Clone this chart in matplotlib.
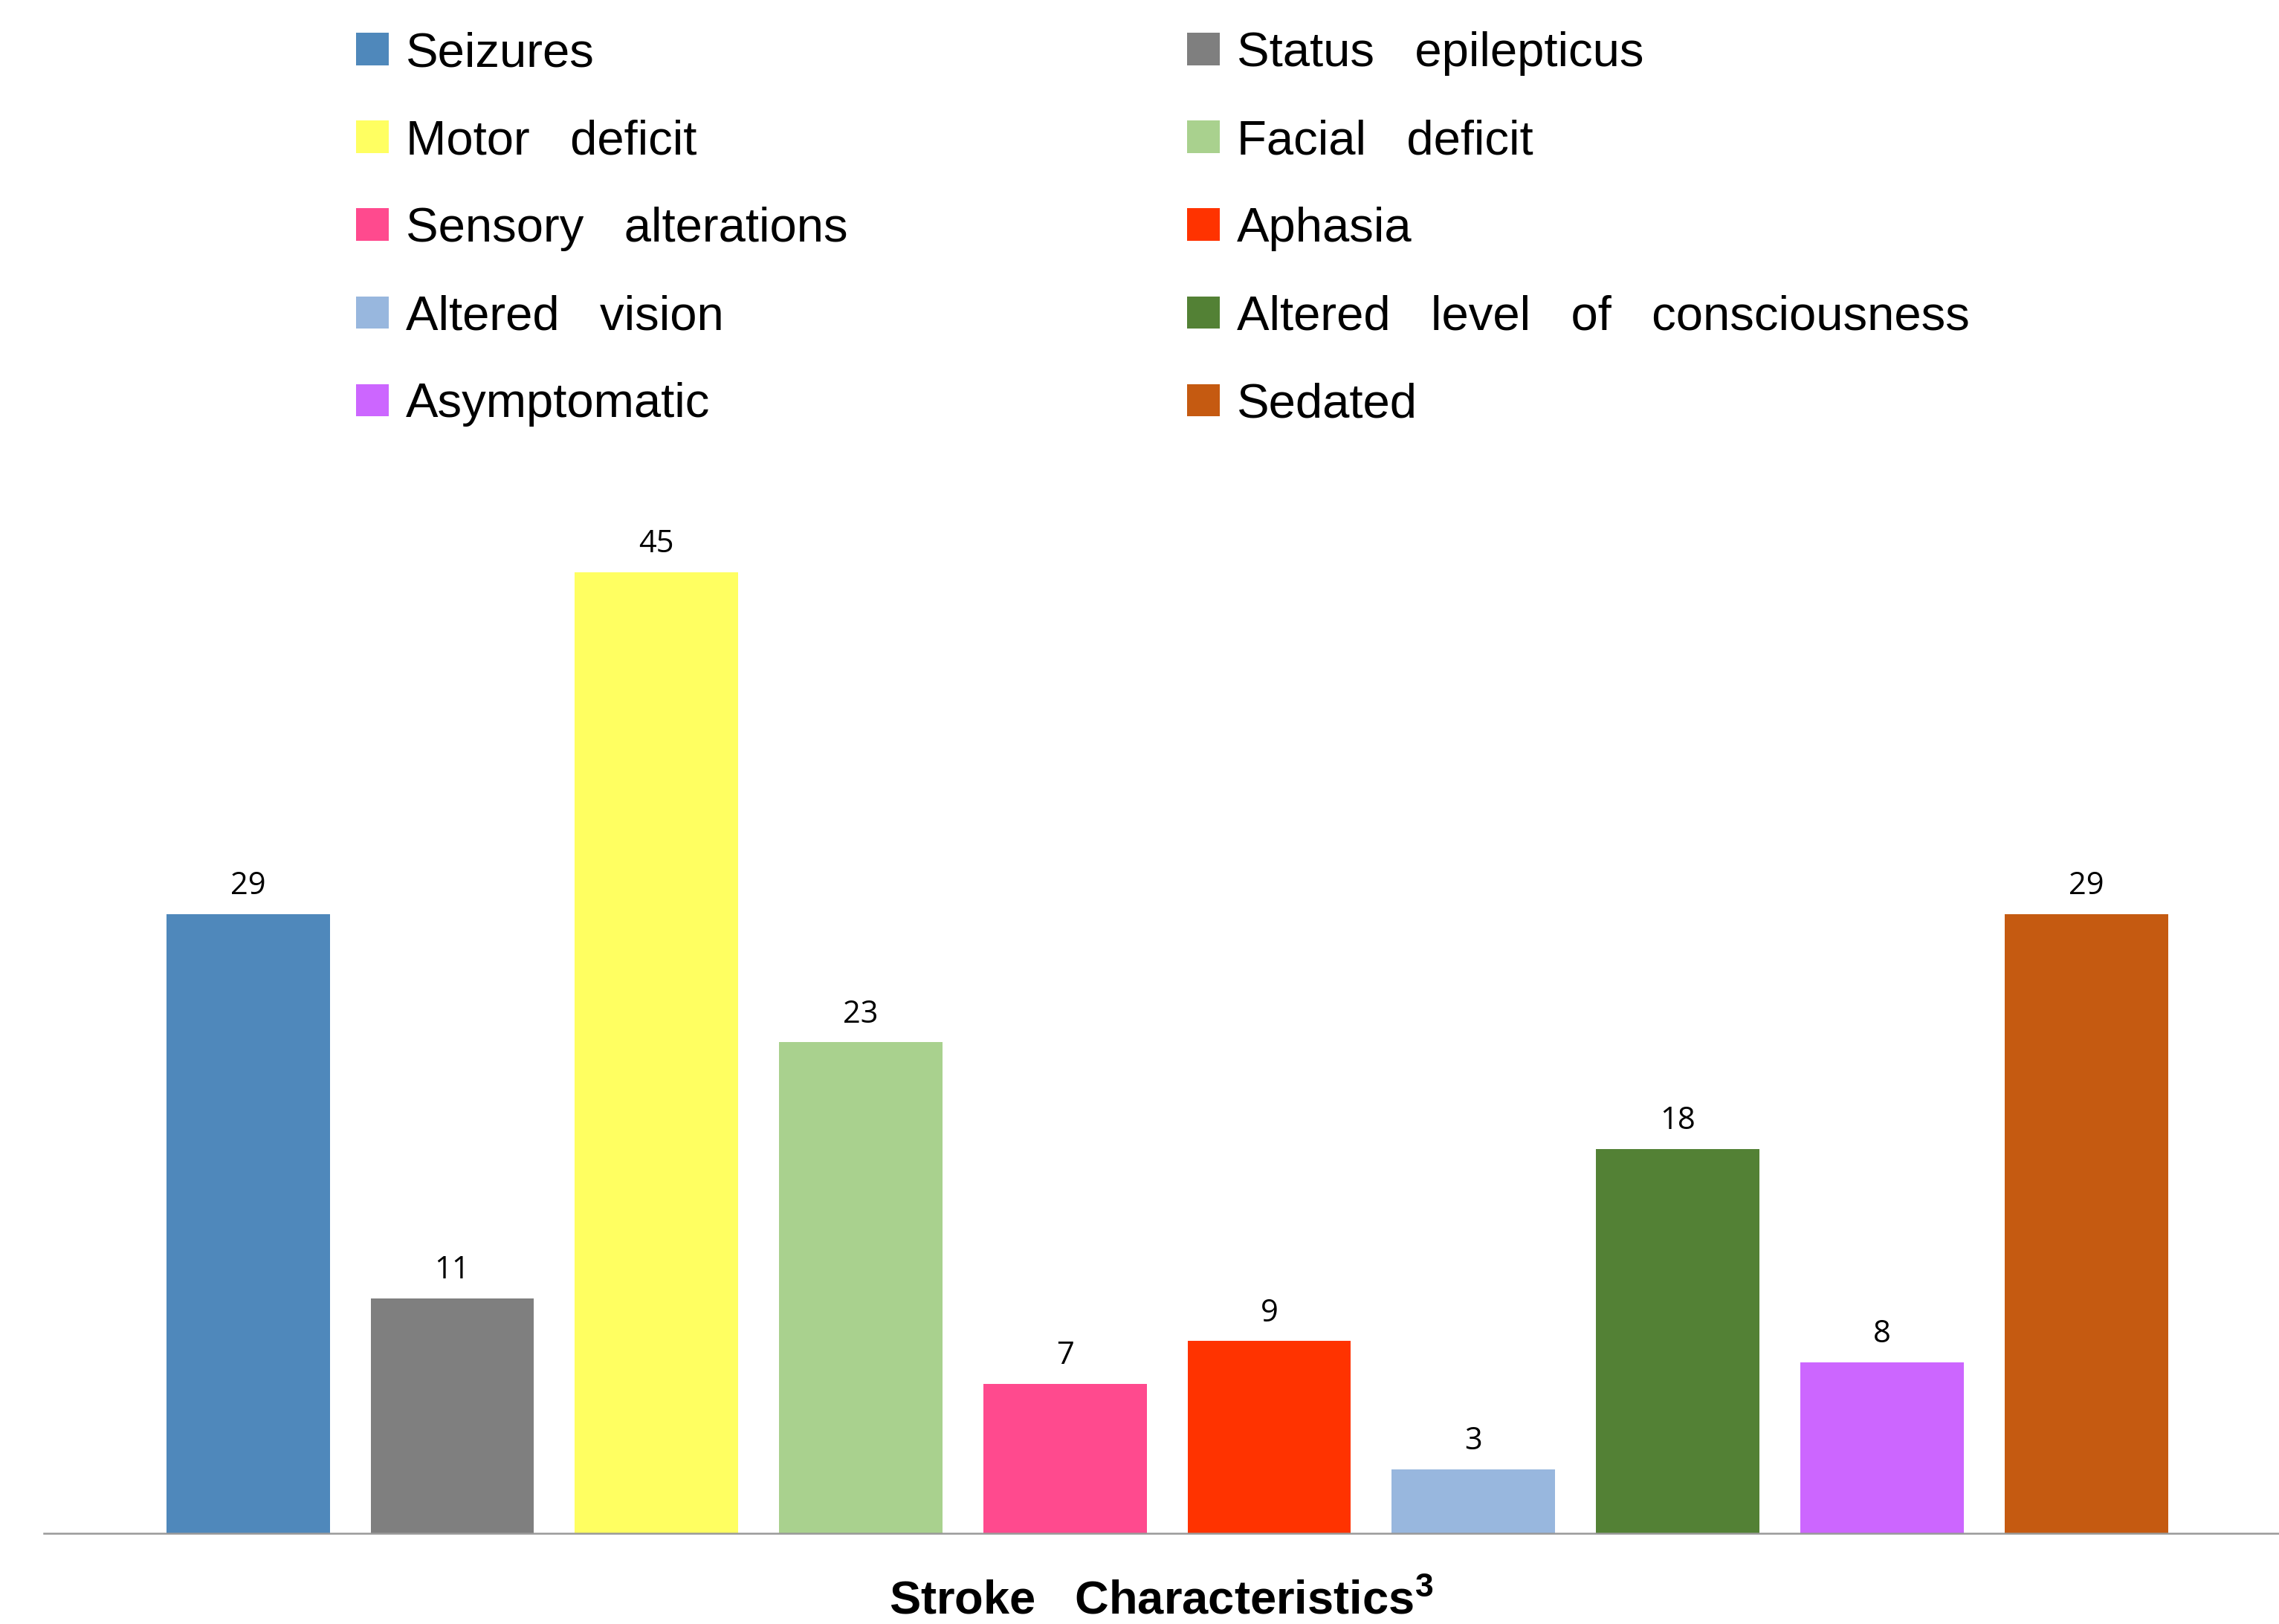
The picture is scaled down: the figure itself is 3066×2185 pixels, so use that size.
import numpy as np
import matplotlib
matplotlib.use("Agg")
import matplotlib.pyplot as plt
from matplotlib.patches import Patch

plt.rcParams["mathtext.fontset"] = "custom"
plt.rcParams["mathtext.rm"] = "Liberation Sans"
plt.rcParams["mathtext.bf"] = "Liberation Sans:bold"

# Data
categories = ["Seizures", "Status epilepticus", "Motor deficit", "Facial deficit",
              "Sensory alterations", "Aphasia", "Altered vision",
              "Altered level of consciousness", "Asymptomatic", "Sedated"]
counts = [29, 11, 45, 23, 7, 9, 3, 18, 8, 29]
colors = ["#4F88BB", "#7F7F7F", "#FFFF61", "#A9D18E", "#FF4A8E",
          "#FF3300", "#98B7DE", "#538135", "#CC66FF", "#C55A11"]
title = "Stroke Characteristics"
title_note = "3"

W, H = 3066, 2185
fig = plt.figure(figsize=(W / 100, H / 100), dpi=100)
ax = fig.add_axes([59 / W, 1 - 2063 / H, (W - 59) / W, (2063 - 700) / H])

x = np.arange(len(categories))
bars = ax.bar(x, counts, width=0.8, color=colors, zorder=2)

# value labels
for b, v in zip(bars, counts):
    ax.annotate(str(v), (b.get_x() + b.get_width() / 2, b.get_height()),
                xytext=(0, 12), textcoords="offset points",
                ha="center", va="bottom", fontsize=30, family="Open Sans")

ax.set_xlim(-1.0, 9.944)
ax.set_ylim(0, 47.44)
for s in ["top", "right", "left"]:
    ax.spines[s].set_visible(False)
ax.spines["bottom"].set_color("#999999")
ax.spines["bottom"].set_linewidth(1.8)
ax.spines["bottom"].set_zorder(3)
ax.set_yticks([])
ax.set_xticks([])

ax.set_xlabel(title.replace(" ", "   ") + r"$^{\mathbf{" + title_note + "}}$",
              fontsize=45.5, fontweight="bold", family="Liberation Sans", labelpad=45)

# legend: two columns, drawn as two legends
handles = [Patch(facecolor=c, edgecolor="none") for c in colors]
labels = [c.replace(" ", "   ") for c in categories]
leg_kw = dict(frameon=False, prop={"family": "Liberation Sans", "size": 47},
              handlelength=0.68, handleheight=0.65, handletextpad=0.35,
              labelspacing=0.89, borderpad=0, borderaxespad=0, loc="upper left")
left_idx = [0, 2, 4, 6, 8]
right_idx = [1, 3, 5, 7, 9]
leg1 = fig.legend([handles[i] for i in left_idx], [labels[i] for i in left_idx],
                  bbox_to_anchor=(479 / W, 1 - 42 / H), **leg_kw)
leg2 = fig.legend([handles[i] for i in right_idx], [labels[i] for i in right_idx],
                  bbox_to_anchor=(1597 / W, 1 - 42 / H), **leg_kw)

fig.savefig("out.png", dpi=100)
